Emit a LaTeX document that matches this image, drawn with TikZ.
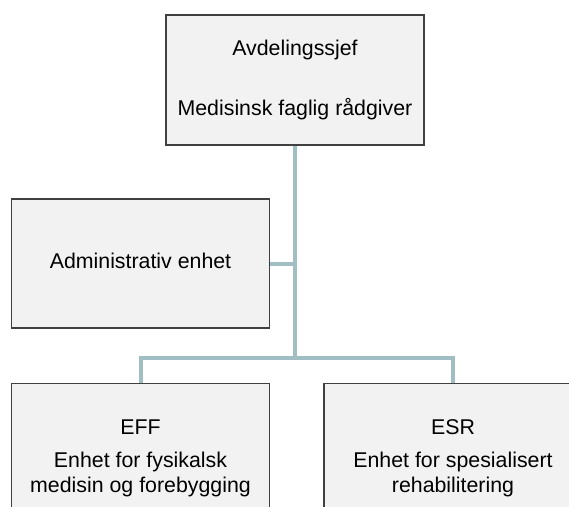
\documentclass[tikz,border=0pt]{standalone}
\usepackage{fontspec}
\setmainfont{Liberation Sans}
\usetikzlibrary{backgrounds}
\definecolor{conn}{RGB}{160,190,195}
\definecolor{boxfill}{RGB}{242,242,242}
\definecolor{boxline}{RGB}{64,64,64}
\begin{document}
\begin{tikzpicture}[x=0.75pt,y=-0.75pt,
  orgbox/.style={draw=boxline, fill=boxfill, line width=1.1pt, inner sep=0pt,
    minimum width=193.5pt, align=center, font=\fontsize{16}{18.75}\selectfont},
  boxtext/.style={align=center, inner sep=0pt, font=\fontsize{16}{18.75}\selectfont},
  connector/.style={draw=conn, line width=3pt}]
\useasboundingbox (0,0) rectangle (569,507);
\clip (0,0) rectangle (569,507);
% boxes
\node[orgbox, minimum height=97.5pt] (top) at (295,80)
  {Avdelingssjef\\[26.25pt]Medisinsk faglig rådgiver};
\node[orgbox, minimum height=96.75pt, text depth=3.4pt] (adm) at (140.5,263.5)
  {Administrativ enhet};
\node[orgbox, minimum height=195pt, anchor=north] (eff) at (140.5,383) {};
\node[orgbox, minimum height=195pt, anchor=north] (esr) at (453,383) {};
\node[boxtext, anchor=base] (efftext) at (140.5,492.5)
  {EFF\\[6pt]Enhet for fysikalsk\\medisin og forebygging};
\node[boxtext, anchor=base] (esrtext) at (453,492.5)
  {ESR\\[6pt]Enhet for spesialisert\\rehabilitering};
% connectors
\coordinate (j) at (295,358);
\begin{scope}[on background layer]
\draw[connector] (top.south) -- (j);
\draw[connector] (adm.east) -- (adm.east -| j);
\draw[connector] (eff.north) |- (j) -| (esr.north);
\end{scope}
\end{tikzpicture}
\end{document}
